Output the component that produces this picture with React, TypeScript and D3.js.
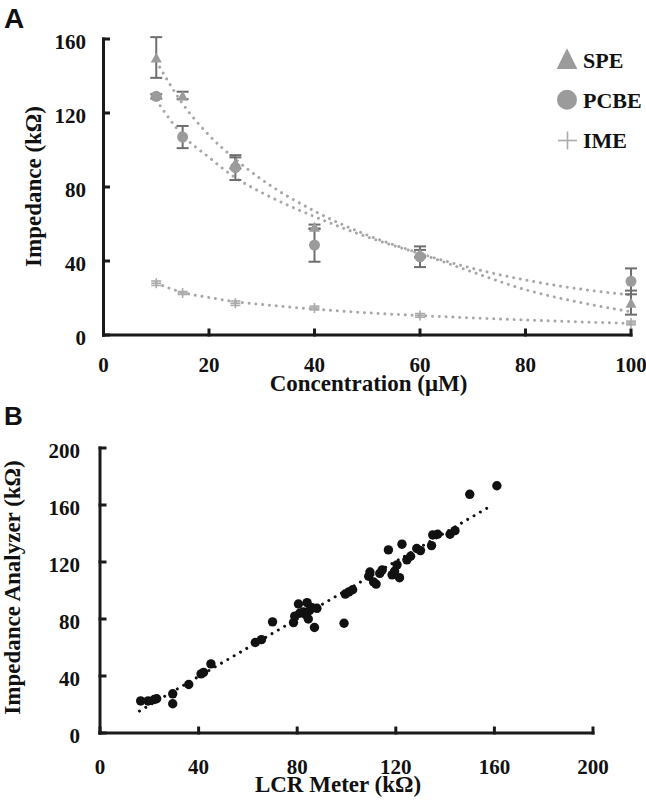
import React from "react";
import * as d3 from "d3";

// ---------- Panel A data ----------
const concentrations = [10, 15, 25, 40, 60, 100];
const speValues = [150, 129.5, 93, 58.5, 44, 17.5];
const speErrors = [11, 2, 3, 1.2, 2, 6.5];
const pcbeValues = [129, 107, 90.5, 48.6, 42.3, 29];
const pcbeErrors = [1.2, 6, 6.7, 9, 5.6, 7];
const imeValues = [28, 22.7, 17.2, 14.6, 10.6, 6.5];
const imeErrors = [1.2, 0.8, 1.2, 1, 1, 1];

// trendlines
const trendX = [10, 15, 20, 25, 30, 40, 50, 60, 70, 80, 90, 100];
const speTrend = [148, 125, 108, 95, 84, 67, 54, 44, 34, 24.5, 17.8, 12.6];
const pcbeTrend = [127, 108, 96, 85, 77, 64, 53, 44, 36, 29.7, 25, 21.6];
const imeTrend = [28, 23, 20.3, 18, 16.5, 14, 12, 10.5, 9.2, 8.1, 7.1, 6.3];

const xTicksA = [0, 20, 40, 60, 80, 100];
const yTicksA = [0, 40, 80, 120, 160];
const legendLabels = ["SPE", "PCBE", "IME"];

// ---------- Panel B data ----------
const lcrValues = [16.5, 19.5, 22, 23, 29.5, 29.5, 36, 41, 42, 45, 63, 65.5, 70, 78.5, 79, 80.5, 81, 82.5, 83.5, 84, 84.5, 85, 86, 87, 88, 99, 99.5, 101, 102.5, 109, 109.5, 111, 112, 113.5, 114.5, 117, 118.5, 119.5, 120.5, 121.5, 122.5, 124.5, 126, 128.5, 130, 134.5, 135, 137, 142, 144, 150, 161];
const analyzerValues = [22.5, 22.5, 23.5, 24, 27.5, 20.5, 34, 41.5, 42.5, 48.5, 63.5, 65.5, 78, 77.5, 82, 90.5, 84, 85, 83, 91.5, 80, 86, 88, 74, 87.5, 77, 97.5, 99, 100.5, 110, 113, 106, 104.5, 112, 114.5, 128.5, 111, 113.5, 118, 109, 132.5, 121.5, 124, 129.5, 128, 131.5, 139, 139.5, 139.5, 142, 167.5, 173.5];
const trendBX = [16, 158];
const trendBY = [15.4, 158.8];

const xTicksB = [0, 40, 80, 120, 160, 200];
const yTicksB = [0, 40, 80, 120, 160, 200];

const SERIF = "'Liberation Serif', 'Times New Roman', serif";
const SANS = "'Liberation Sans', Arial, sans-serif";
const AXIS = "#1a1a1a";
const MARK = "#9b9b9b";
const ERR = "#6e6e6e";
const TREND = "#a8a8a8";
const IMEC = "#ababab";

export default function App() {
  const xA = d3.scaleLinear().domain([0, 100]).range([103.5, 631]);
  const yA = d3.scaleLinear().domain([0, 160]).range([335, 39]);
  const xB = d3.scaleLinear().domain([0, 200]).range([100, 593]);
  const yB = d3.scaleLinear().domain([0, 200]).range([733, 448]);

  const lineA = (vals: number[]) =>
    d3
      .line<number>()
      .x((_, i) => xA(trendX[i]))
      .y((v) => yA(v))
      .curve(d3.curveMonotoneX)(vals) || "";

  const triPath = (cx: number, cy: number, w: number, h: number) =>
    `M${cx},${cy - h / 2}L${cx + w / 2},${cy + h / 2}L${cx - w / 2},${cy + h / 2}Z`;

  const errBar = (x: number, v: number, e: number, color: string, cap: number, sw: number, key: string) => {
    const px = xA(x);
    const t = yA(v + e);
    const b = yA(v - e);
    return (
      <g key={key} stroke={color} strokeWidth={sw}>
        <line x1={px} x2={px} y1={t} y2={b} />
        <line x1={px - cap / 2} x2={px + cap / 2} y1={t} y2={t} />
        <line x1={px - cap / 2} x2={px + cap / 2} y1={b} y2={b} />
      </g>
    );
  };

  const tickText = { fontFamily: SERIF, fontWeight: 700, fontSize: 21, fill: "#111" } as const;
  const titleText = { fontFamily: SERIF, fontWeight: 700, fontSize: 23, fill: "#111" } as const;

  return (
    <svg
      width={646}
      height={800}
      style={{ position: "absolute", left: 0, top: 0, background: "#fff" }}
    >
      <rect x={0} y={0} width={646} height={800} fill="#fff" />

      {/* ======== Panel A ======== */}
      <text x={4} y={28} fontFamily={SANS} fontWeight={700} fontSize={28} fill="#111">A</text>

      {/* trendlines */}
      {[speTrend, pcbeTrend, imeTrend].map((t, i) => (
        <path
          key={"tr" + i}
          d={lineA(t)}
          fill="none"
          stroke={TREND}
          strokeWidth={3}
          strokeLinecap="round"
          strokeDasharray="0.01 6.8"
        />
      ))}

      {/* error bars */}
      {concentrations.map((c, i) => errBar(c, imeValues[i], imeErrors[i], IMEC, 10, 1.6, "ie" + i))}
      {concentrations.map((c, i) => errBar(c, pcbeValues[i], pcbeErrors[i], ERR, 12, 2, "pe" + i))}
      {concentrations.map((c, i) => errBar(c, speValues[i], speErrors[i], ERR, 12, 2, "se" + i))}

      {/* markers */}
      {concentrations.map((c, i) => (
        <g key={"im" + i} stroke={IMEC} strokeWidth={1.6}>
          <line x1={xA(c) - 5} x2={xA(c) + 5} y1={yA(imeValues[i])} y2={yA(imeValues[i])} />
          <line x1={xA(c)} x2={xA(c)} y1={yA(imeValues[i]) - 5} y2={yA(imeValues[i]) + 5} />
        </g>
      ))}
      {concentrations.map((c, i) => (
        <circle key={"pm" + i} cx={xA(c)} cy={yA(pcbeValues[i])} r={5.5} fill={MARK} />
      ))}
      {concentrations.map((c, i) => (
        <path key={"sm" + i} d={triPath(xA(c), yA(speValues[i]), 11, 10)} fill={MARK} />
      ))}

      {/* axes A */}
      <g stroke={AXIS} strokeWidth={3} strokeLinecap="square">
        <line x1={xA(0)} x2={xA(100)} y1={yA(0)} y2={yA(0)} />
        <line x1={xA(0)} x2={xA(0)} y1={yA(0)} y2={yA(160)} />
        {xTicksA.map((t) => (
          <line key={"xta" + t} x1={xA(t)} x2={xA(t)} y1={yA(0)} y2={yA(0) - 5} />
        ))}
        {yTicksA.map((t) => (
          <line key={"yta" + t} x1={xA(0)} x2={xA(0) + 5} y1={yA(t)} y2={yA(t)} />
        ))}
      </g>
      {xTicksA.map((t) => (
        <text key={"xla" + t} x={xA(t)} y={372} textAnchor="middle" {...tickText}>{t}</text>
      ))}
      {yTicksA.map((t) => (
        <text key={"yla" + t} x={86} y={yA(t) + 3} textAnchor="end" dominantBaseline="central" {...tickText}>{t}</text>
      ))}
      <text x={368.5} y={391} textAnchor="middle" {...titleText}>Concentration (μM)</text>
      <text transform="translate(41,186.5) rotate(-90)" textAnchor="middle" {...titleText}>Impedance (kΩ)</text>

      {/* legend */}
      <path d={triPath(567, 58.7, 20.7, 20.7)} fill={MARK} />
      <circle cx={567} cy={99.7} r={10} fill={MARK} />
      <g stroke={IMEC} strokeWidth={1.6}>
        <line x1={558} x2={577} y1={140.5} y2={140.5} />
        <line x1={567.5} x2={567.5} y1={131.5} y2={149.5} />
      </g>
      {legendLabels.map((l, i) => (
        <text key={l} x={583} y={68 + i * 40} fontFamily={SERIF} fontWeight={700} fontSize={22} fill="#111">{l}</text>
      ))}

      {/* ======== Panel B ======== */}
      <text x={4} y={425} fontFamily={SANS} fontWeight={700} fontSize={26} fill="#111">B</text>

      {lcrValues.map((v, i) => (
        <circle key={"b" + i} cx={xB(v)} cy={yB(analyzerValues[i])} r={4.7} fill="#111" />
      ))}
      <line
        x1={xB(trendBX[0])}
        y1={yB(trendBY[0])}
        x2={xB(trendBX[1])}
        y2={yB(trendBY[1])}
        stroke="#111"
        strokeWidth={3}
        strokeLinecap="round"
        strokeDasharray="0.01 7.3"
      />

      <g stroke={AXIS} strokeWidth={3} strokeLinecap="square">
        <line x1={xB(0)} x2={xB(200)} y1={yB(0)} y2={yB(0)} />
        <line x1={xB(0)} x2={xB(0)} y1={yB(0)} y2={yB(200)} />
        {xTicksB.map((t) => (
          <line key={"xtb" + t} x1={xB(t)} x2={xB(t)} y1={yB(0)} y2={yB(0) - 5} />
        ))}
        {yTicksB.map((t) => (
          <line key={"ytb" + t} x1={xB(0)} x2={xB(0) + 5} y1={yB(t)} y2={yB(t)} />
        ))}
      </g>
      {xTicksB.map((t) => (
        <text key={"xlb" + t} x={xB(t)} y={774} textAnchor="middle" {...tickText}>{t}</text>
      ))}
      {yTicksB.map((t) => (
        <text key={"ylb" + t} x={80} y={yB(t) + 3} textAnchor="end" dominantBaseline="central" {...tickText}>{t}</text>
      ))}
      <text x={338} y={792} textAnchor="middle" {...titleText}>LCR Meter (kΩ)</text>
      <text transform="translate(20,587.5) rotate(-90)" textAnchor="middle" {...titleText}>Impedance Analyzer (kΩ)</text>
    </svg>
  );
}
